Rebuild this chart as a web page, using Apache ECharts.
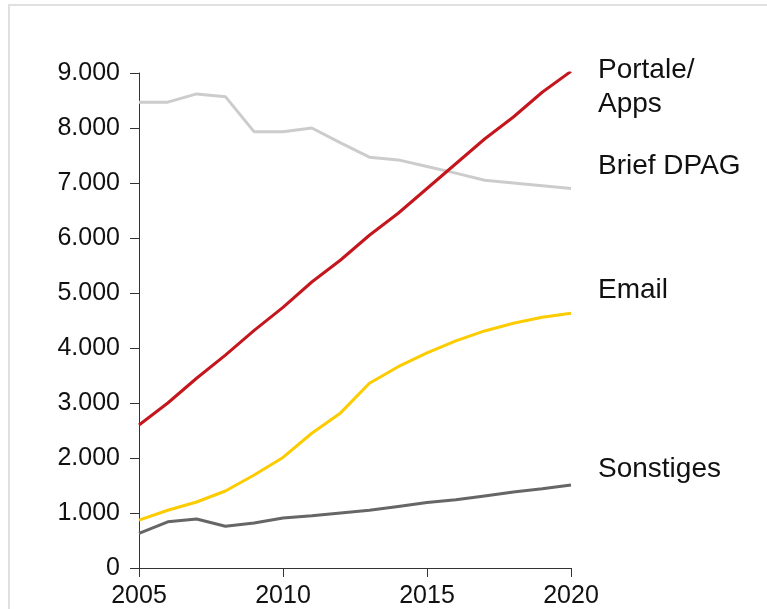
<!DOCTYPE html>
<html>
<head>
<meta charset="utf-8">
<script src="https://cdn.jsdelivr.net/npm/echarts@6/dist/echarts.min.js"></script>
<style>
  html, body { margin: 0; padding: 0; background: #fff; }
  #chart { width: 767px; height: 609px; }
</style>
</head>
<body>
<div id="chart"></div>
<script>
// Jahre und Werte
const years = [2005, 2006, 2007, 2008, 2009, 2010, 2011, 2012, 2013, 2014, 2015, 2016, 2017, 2018, 2019, 2020];
const briefDpag = [8470, 8470, 8620, 8570, 7930, 7930, 8000, 7730, 7470, 7420, 7300, 7180, 7050, 7000, 6950, 6900];
const portale = [2600, 3000, 3450, 3870, 4320, 4740, 5200, 5600, 6050, 6450, 6900, 7350, 7800, 8200, 8650, 9030];
const email = [870, 1050, 1200, 1400, 1690, 2010, 2450, 2820, 3360, 3660, 3910, 4130, 4310, 4450, 4560, 4630];
const sonstiges = [630, 840, 890, 760, 820, 910, 950, 1000, 1050, 1120, 1190, 1240, 1310, 1380, 1440, 1510];
const seriesNames = ['Brief DPAG', 'Portale/\nApps', 'Email', 'Sonstiges'];

const chart = echarts.init(document.getElementById('chart'));

const pairs = arr => years.map((y, i) => [y, arr[i]]);
const fmtDE = v => String(v).replace(/\B(?=(\d{3})+(?!\d))/g, '.');

// Serienlinie mit Endbeschriftung
function line(name, data, color, dy) {
    return {
        name: name,
        type: 'line',
        data: pairs(data),
        symbol: 'none',
        smooth: false,
        lineStyle: { color: color, width: 3 },
        endLabel: {
            show: true,
            formatter: name,
            distance: 27,
            offset: [0, dy],
            color: '#111',
            fontSize: 28,
            lineHeight: 34,
            fontFamily: 'Liberation Sans, Arial, sans-serif'
        }
    };
}

const option = {
    animation: false,
    graphic: [{
        type: 'rect',
        shape: { x: 9, y: 5, width: 900, height: 800 },
        style: { fill: 'none', stroke: '#e0e0e0', lineWidth: 2 },
        silent: true
    }],
    grid: { left: 139, right: 196, top: 73, bottom: 41 },
    xAxis: {
        type: 'value',
        min: 2005,
        max: 2020,
        interval: 5,
        splitLine: { show: false },
        axisLine: { onZero: false, lineStyle: { color: '#333', width: 1 } },
        axisTick: { show: true, length: 9, lineStyle: { color: '#333' } },
        axisLabel: {
            margin: 16,
            color: '#111',
            fontSize: 25,
            fontFamily: 'Liberation Sans, Arial, sans-serif',
            formatter: v => String(v)
        }
    },
    yAxis: {
        type: 'value',
        min: 0,
        max: 9000,
        interval: 1000,
        splitLine: { show: false },
        axisLine: { show: true, lineStyle: { color: '#333', width: 1 } },
        axisTick: { show: true, length: 9, lineStyle: { color: '#333' } },
        axisLabel: {
            margin: 19,
            color: '#111',
            fontSize: 25,
            fontFamily: 'Liberation Sans, Arial, sans-serif',
            formatter: v => fmtDE(v)
        }
    },
    series: [
        line(seriesNames[0], briefDpag, '#cccccc', -22),
        line(seriesNames[1], portale, '#c4161c', 16),
        line(seriesNames[2], email, '#fccc00', -23),
        line(seriesNames[3], sonstiges, '#666666', -16)
    ]
};

chart.setOption(option);
</script>
</body>
</html>
